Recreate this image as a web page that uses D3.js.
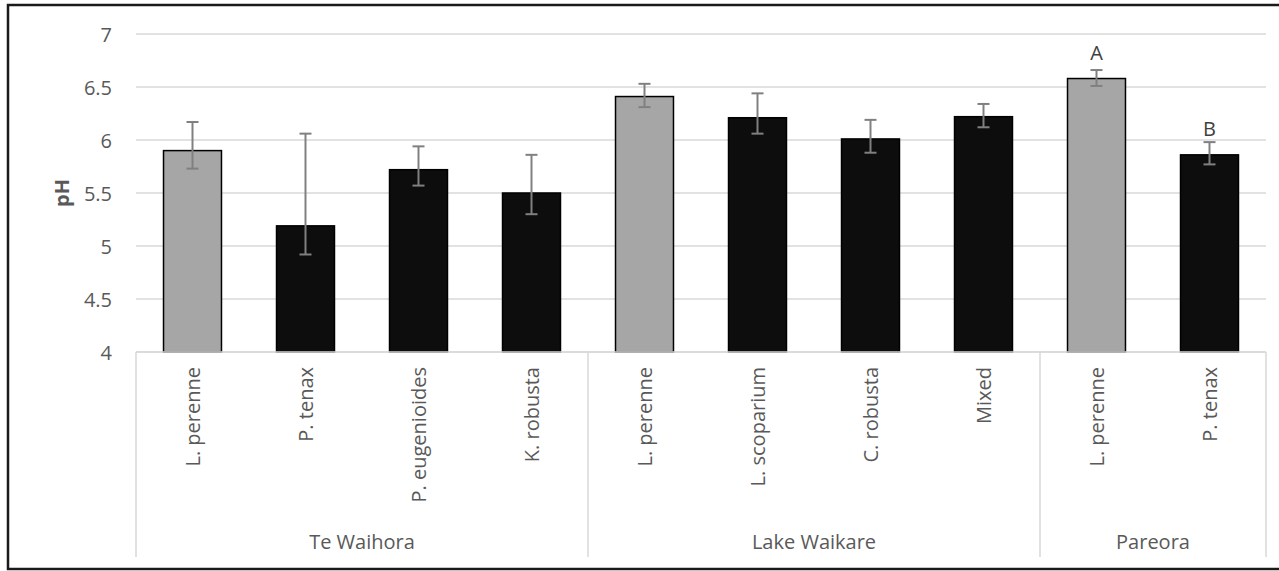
<!DOCTYPE html>
<html>
<head>
<meta charset="utf-8">
<script src="https://cdn.jsdelivr.net/npm/d3@7/dist/d3.min.js"></script>
<style>
  html, body { margin: 0; padding: 0; background: #fff; }
  svg { display: block; font-family: "Open Sans", sans-serif; }
</style>
</head>
<body>
<svg id="chart" width="1279" height="571"></svg>
<script>
// Soil pH by vegetation type at three sites (mean with asymmetric error bars)
const sites = ["Te Waihora", "Lake Waikare", "Pareora"];
const species = ["L. perenne", "P. tenax", "P. eugenioides", "K. robusta",
                 "L. perenne", "L. scoparium", "C. robusta", "Mixed",
                 "L. perenne", "P. tenax"];
const siteOf = ["Te Waihora", "Te Waihora", "Te Waihora", "Te Waihora",
                "Lake Waikare", "Lake Waikare", "Lake Waikare", "Lake Waikare",
                "Pareora", "Pareora"];
const vegType = ["pasture", "native", "native", "native",
                 "pasture", "native", "native", "native",
                 "pasture", "native"];
const phMean  = [5.90, 5.19, 5.72, 5.50, 6.41, 6.21, 6.01, 6.22, 6.58, 5.86];
const errUp   = [0.27, 0.87, 0.22, 0.36, 0.12, 0.23, 0.18, 0.12, 0.08, 0.12];
const errDown = [0.17, 0.27, 0.15, 0.20, 0.10, 0.15, 0.13, 0.10, 0.07, 0.09];
const sigLetters = ["", "", "", "", "", "", "", "", "A", "B"];
const yTicks = [4, 4.5, 5, 5.5, 6, 6.5, 7];

const svg = d3.select("#chart");
const plot = { left: 136, right: 1266, top: 34, bottom: 352 };
const textColor = "#595959";
const gridColor = "#d9d9d9";

// outer frame
svg.append("rect")
  .attr("x", 8).attr("y", 5)
  .attr("width", 1280).attr("height", 564)
  .attr("fill", "none").attr("stroke", "#1a1a1a").attr("stroke-width", 2.5);

const idx = species.map((_, i) => i);
const x = d3.scaleBand().domain(idx).range([plot.left, plot.right])
  .paddingInner(0.487).paddingOuter(0.2435);
const step = x.step();
const y = d3.scaleLinear().domain([4, 7]).range([plot.bottom, plot.top]);
const fill = d3.scaleOrdinal().domain(["pasture", "native"]).range(["#a6a6a6", "#0d0d0d"]);

// horizontal gridlines
svg.append("g").selectAll("line").data(yTicks).join("line")
  .attr("x1", plot.left).attr("x2", plot.right)
  .attr("y1", d => y(d)).attr("y2", d => y(d))
  .attr("stroke", gridColor).attr("stroke-width", 1.5);

// y axis tick labels
const yAxis = d3.axisLeft(y).tickValues(yTicks).tickSize(0).tickPadding(0)
  .tickFormat(d => d3.format("~g")(d));
const yg = svg.append("g").attr("transform", `translate(112,0)`).call(yAxis);
yg.select(".domain").remove();
yg.selectAll("text")
  .attr("font-family", "Open Sans").attr("font-size", 20)
  .attr("fill", textColor).attr("dy", "0.35em");

// y axis title
svg.append("text")
  .attr("transform", `translate(69,${(plot.top + plot.bottom) / 2}) rotate(-90)`)
  .attr("text-anchor", "middle")
  .attr("font-size", 20).attr("font-weight", "bold").attr("fill", textColor)
  .text("pH");

// bars
svg.append("g").selectAll("rect").data(idx).join("rect")
  .attr("x", i => x(i)).attr("width", x.bandwidth())
  .attr("y", i => y(phMean[i])).attr("height", i => y(4) - y(phMean[i]))
  .attr("fill", i => fill(vegType[i]))
  .attr("stroke", "#000").attr("stroke-width", 1.5);

// error bars
const eb = svg.append("g").attr("stroke", "#808080").attr("stroke-width", 2);
const cx = i => x(i) + x.bandwidth() / 2;
eb.selectAll("line.v").data(idx).join("line").attr("class", "v")
  .attr("x1", cx).attr("x2", cx)
  .attr("y1", i => y(phMean[i] + errUp[i])).attr("y2", i => y(phMean[i] - errDown[i]));
eb.selectAll("line.t").data(idx).join("line").attr("class", "t")
  .attr("x1", i => cx(i) - 6).attr("x2", i => cx(i) + 6)
  .attr("y1", i => y(phMean[i] + errUp[i])).attr("y2", i => y(phMean[i] + errUp[i]));
eb.selectAll("line.b").data(idx).join("line").attr("class", "b")
  .attr("x1", i => cx(i) - 6).attr("x2", i => cx(i) + 6)
  .attr("y1", i => y(phMean[i] - errDown[i])).attr("y2", i => y(phMean[i] - errDown[i]));

// significance letters
svg.append("g").selectAll("text").data(idx.filter(i => sigLetters[i])).join("text")
  .attr("x", cx).attr("y", i => y(phMean[i]) - 19)
  .attr("text-anchor", "middle").attr("font-size", 20).attr("fill", "#404040")
  .text(i => sigLetters[i]);

// category axis line
svg.append("line")
  .attr("x1", plot.left).attr("x2", plot.right)
  .attr("y1", plot.bottom).attr("y2", plot.bottom)
  .attr("stroke", gridColor).attr("stroke-width", 1.5);

// group separators
const groupBounds = sites.map(s => {
  const members = idx.filter(i => siteOf[i] === s);
  const first = members[0], last = members[members.length - 1];
  return { site: s,
           x0: x(first) - (step - x.bandwidth()) / 2,
           x1: x(last) + x.bandwidth() + (step - x.bandwidth()) / 2 };
});
const sepX = [groupBounds[0].x0, ...groupBounds.map(g => g.x1)];
svg.append("g").selectAll("line").data(sepX).join("line")
  .attr("x1", d => d).attr("x2", d => d)
  .attr("y1", plot.bottom).attr("y2", 557)
  .attr("stroke", gridColor).attr("stroke-width", 1.5);

// species labels (rotated)
svg.append("g").selectAll("text").data(idx).join("text")
  .attr("transform", i => `translate(${cx(i) + 7},367) rotate(-90)`)
  .attr("text-anchor", "end")
  .attr("font-size", 20).attr("fill", textColor)
  .text(i => species[i]);

// site labels
svg.append("g").selectAll("text").data(groupBounds).join("text")
  .attr("x", g => (g.x0 + g.x1) / 2).attr("y", 549)
  .attr("text-anchor", "middle")
  .attr("font-size", 20).attr("fill", textColor)
  .text(g => g.site);
</script>
</body>
</html>
